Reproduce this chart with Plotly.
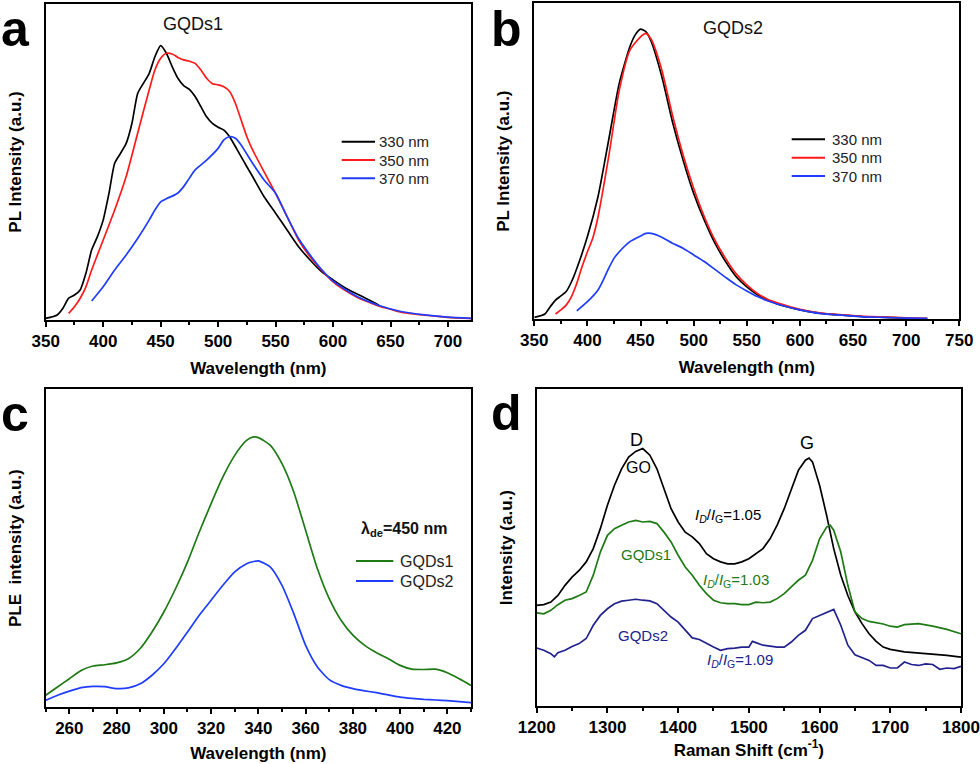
import plotly.graph_objects as go

# ---------------- Panel a : GQDs1 PL ----------------
a_x330 = [350, 360, 365, 370, 375, 380, 385, 390, 395, 400, 405, 410, 415, 420, 425, 430, 435, 440, 445, 450,
          455, 460, 465, 470, 475, 480, 485, 490, 495, 500, 505, 510, 515, 520, 525, 530, 540, 550, 560, 570,
          580, 590, 600, 610, 620, 630, 640]
a_y330 = [0.5, 1.6, 3.7, 6.9, 7.9, 9.5, 14.8, 22.2, 26.4, 31.6, 40.0, 49.6, 52.7, 55.9, 62.2, 71.7, 74.9, 78.0, 83.3, 86.8,
          84.4, 80.2, 76.5, 74.2, 73.0, 70.7, 67.5, 64.3, 62.2, 61.0, 60.1, 58.0, 54.9, 51.7, 48.5, 45.4, 39.0, 33.8, 28.5, 23.2,
          19.0, 15.3, 12.7, 10.3, 8.4, 6.6, 4.7]
a_x350 = [370, 375, 380, 385, 390, 395, 400, 410, 420, 430, 440, 445, 450, 455, 460, 465, 470, 475, 480, 485,
          490, 495, 500, 505, 510, 515, 520, 525, 530, 540, 550, 560, 570, 580, 590, 600, 610, 620, 630, 640,
          650, 660, 670, 680, 690, 700, 720]
a_y350 = [2.1, 4.2, 6.9, 10.5, 15.8, 20.6, 25.3, 34.8, 45.4, 59.1, 72.8, 79.1, 82.8, 84.4, 84.2, 83.1, 82.3, 81.9, 81.2, 79.1,
          76.5, 74.8, 74.4, 73.8, 72.3, 68.6, 63.3, 58.0, 53.8, 46.9, 40.1, 32.7, 25.3, 20.0, 15.8, 12.1, 9.5, 7.4, 5.8, 4.4,
          3.4, 2.4, 1.9, 1.5, 1.2, 0.8, 0.5]
a_x370 = [390, 400, 410, 420, 430, 440, 445, 450, 455, 460, 465, 470, 475, 480, 490, 500, 505, 510, 515, 520,
          530, 540, 550, 560, 570, 580, 590, 600, 620, 640, 660, 680, 700, 720]
a_y370 = [6.0, 10.5, 15.8, 20.6, 25.8, 31.6, 34.8, 37.4, 38.4, 39.2, 40.2, 42.2, 44.9, 47.5, 50.6, 54.3, 57.0, 58.0, 57.5, 55.4,
          49.6, 44.3, 40.1, 32.7, 25.8, 20.6, 16.0, 12.3, 7.6, 4.6, 2.6, 1.6, 0.9, 0.5]

# ---------------- Panel b : GQDs2 PL ----------------
b_x330 = [350, 360, 365, 370, 375, 380, 385, 390, 400, 410, 420, 430, 440, 445, 450, 455, 460, 470, 480, 490,
          500, 510, 520, 530, 540, 550, 560, 570, 580, 600, 620, 640, 660, 680, 700]
b_y330 = [0.5, 1.6, 3.9, 6.0, 7.3, 8.7, 11.8, 16.0, 26.1, 38.8, 56.7, 74.7, 86.3, 90.0, 91.8, 91.0, 87.9, 76.8, 62.5, 50.4,
          39.8, 31.3, 24.0, 18.2, 13.4, 10.2, 7.7, 6.0, 4.6, 2.9, 1.8, 1.2, 0.7, 0.5, 0.3]
b_x350 = [370, 375, 380, 385, 390, 395, 400, 405, 410, 420, 430, 440, 450, 455, 460, 470, 480, 490, 500, 510,
          520, 530, 540, 550, 560, 570, 580, 600, 620, 640, 660, 680, 700, 720]
b_y350 = [1.6, 2.9, 4.4, 7.1, 11.3, 16.6, 21.3, 25.6, 32.4, 51.4, 72.5, 85.2, 89.4, 90.5, 88.6, 78.9, 64.6, 52.0, 41.4, 32.4,
          25.0, 19.2, 14.3, 10.8, 8.1, 6.2, 5.0, 3.1, 1.9, 1.3, 0.8, 0.6, 0.4, 0.2]
b_x370 = [390, 400, 410, 415, 420, 425, 430, 440, 450, 455, 460, 470, 480, 490, 500, 510, 520, 530, 540, 550,
          560, 570, 580, 600, 620, 640, 660, 680, 700, 720]
b_y370 = [2.6, 5.5, 9.2, 12.4, 16.0, 19.2, 21.3, 24.5, 26.3, 27.1, 27.1, 25.9, 24.0, 22.4, 20.3, 18.2, 15.7, 13.2, 10.8, 8.9,
          7.1, 5.7, 4.6, 2.9, 1.7, 1.2, 0.7, 0.5, 0.3, 0.2]

# ---------------- Panel c : PLE ----------------
c_x = [250, 255, 260, 265, 270, 275, 280, 285, 290, 295, 300, 305, 310, 315, 320, 325, 330, 335, 338, 340,
       345, 350, 355, 360, 365, 370, 375, 380, 385, 390, 395, 400, 405, 410, 415, 420, 425, 430]
c_gqds1 = [3.7, 6.3, 8.9, 11.5, 12.9, 13.3, 13.9, 15.2, 18.4, 23.6, 29.9, 37.3, 45.6, 55.1, 64.0, 72.4, 79.2, 83.9, 85.0, 84.8,
           82.4, 76.6, 67.7, 55.6, 43.5, 34.1, 27.3, 22.6, 19.4, 17.1, 15.2, 13.1, 11.9, 11.8, 11.9, 10.8, 8.9, 6.8]
c_gqds2 = [2.1, 3.7, 5.0, 6.1, 6.5, 6.4, 5.8, 6.0, 7.3, 10.0, 13.6, 18.4, 23.6, 28.9, 33.6, 38.3, 42.5, 45.1, 45.8, 46.0,
           44.1, 38.3, 29.4, 19.4, 12.6, 8.6, 6.8, 5.8, 5.1, 4.5, 3.8, 3.1, 2.7, 2.4, 2.2, 2.0, 1.7, 1.4]

# ---------------- Panel d : Raman ----------------
d_x_go = [1200, 1210, 1220, 1230, 1240, 1250, 1260, 1270, 1280, 1290, 1300, 1310, 1320, 1330, 1340, 1350, 1360, 1370,
          1380, 1390, 1400, 1410, 1420, 1430, 1440, 1450, 1460, 1470, 1480, 1490, 1500, 1510, 1520, 1530, 1540, 1550,
          1560, 1570, 1580, 1585, 1590, 1600, 1610, 1620, 1630, 1640, 1650, 1660, 1670, 1680, 1690, 1700, 1720, 1740,
          1760, 1780, 1800]
d_y_go = [31.8, 32.0, 32.8, 34.9, 38.1, 40.7, 42.8, 45.5, 49.7, 56.0, 63.4, 69.7, 74.9, 78.6, 80.4, 81.3, 79.2, 74.9,
          68.6, 62.3, 58.1, 54.9, 53.4, 51.3, 48.1, 46.5, 45.5, 44.9, 44.9, 45.5, 46.5, 48.1, 49.7, 52.8, 57.1, 62.3,
          68.6, 74.4, 77.6, 78.3, 77.1, 69.7, 60.2, 49.7, 41.3, 34.9, 29.7, 26.0, 22.8, 20.4, 18.6, 17.9, 17.1, 16.8,
          16.5, 16.0, 15.4]
d_x_g1 = [1200, 1210, 1220, 1230, 1240, 1250, 1260, 1270, 1280, 1290, 1300, 1310, 1320, 1330, 1340, 1350, 1360, 1370,
          1380, 1390, 1400, 1410, 1420, 1430, 1440, 1450, 1460, 1470, 1480, 1490, 1500, 1510, 1520, 1530, 1540, 1550,
          1560, 1570, 1580, 1590, 1600, 1610, 1615, 1620, 1630, 1640, 1650, 1660, 1670, 1680, 1690, 1700, 1710, 1720,
          1740, 1760, 1780, 1800]
d_y_g1 = [29.4, 29.1, 30.2, 32.0, 33.4, 33.9, 34.9, 36.0, 41.3, 48.6, 53.9, 56.0, 57.1, 58.1, 58.6, 58.1, 58.3, 57.6,
          54.9, 51.8, 47.6, 43.9, 41.3, 38.1, 35.5, 33.4, 32.6, 32.3, 32.3, 32.0, 32.0, 32.8, 32.6, 32.8, 33.9, 35.5,
          37.6, 39.7, 41.3, 46.0, 52.8, 56.5, 57.1, 55.5, 48.6, 38.1, 29.7, 27.6, 26.7, 26.3, 25.9, 25.2, 24.9, 25.7,
          26.0, 25.2, 24.2, 22.8]
d_x_g2 = [1200, 1210, 1220, 1225, 1230, 1240, 1250, 1260, 1270, 1280, 1290, 1300, 1310, 1320, 1330, 1340, 1350, 1360,
          1370, 1380, 1390, 1400, 1410, 1420, 1430, 1440, 1450, 1460, 1470, 1480, 1490, 1500, 1505, 1510, 1520, 1530,
          1540, 1550, 1560, 1570, 1580, 1590, 1600, 1610, 1620, 1630, 1640, 1650, 1660, 1670, 1680, 1690, 1700, 1710,
          1720, 1730, 1740, 1750, 1760, 1770, 1780, 1790, 1800]
d_y_g2 = [18.3, 17.6, 16.5, 15.5, 16.8, 17.6, 18.8, 19.7, 21.3, 25.5, 28.6, 30.7, 32.3, 33.1, 33.4, 33.7, 33.4, 33.2,
          32.3, 30.2, 28.1, 26.5, 23.9, 21.5, 21.0, 19.7, 18.6, 17.6, 18.1, 18.3, 18.6, 18.6, 20.4, 20.0, 19.2, 18.9,
          18.6, 18.6, 20.2, 22.3, 23.9, 27.6, 28.6, 29.7, 30.5, 25.5, 19.2, 16.2, 15.2, 14.4, 12.8, 12.8, 12.0, 12.0,
          13.9, 13.1, 12.8, 13.3, 13.1, 11.6, 12.0, 11.8, 12.5]

# labels
pl_names = ["330 nm", "350 nm", "370 nm"]
ple_names = ["GQDs1", "GQDs2"]
raman_names = ["GO", "GQDs1", "GQDs2"]
panel_letters = ["a", "b", "c", "d"]

BLACK = "#000000"
RED = "#ff1a1a"
BLUE = "#1f3dff"
GREEN = "#1e7a14"
NAVY = "#22228f"
FONT = "Liberation Sans, Arial, sans-serif"
LW = 1.7
W, H = 980, 764

fig = go.Figure()

# Panel a
for xs, ys, name, col in zip([a_x330, a_x350, a_x370], [a_y330, a_y350, a_y370], pl_names, [BLACK, RED, BLUE]):
    fig.add_trace(go.Scatter(x=xs, y=ys, mode="lines", name=name, showlegend=False,
                             line=dict(color=col, width=LW, shape="spline", smoothing=0.6), xaxis="x", yaxis="y"))
# Panel b
for xs, ys, name, col in zip([b_x330, b_x350, b_x370], [b_y330, b_y350, b_y370], pl_names, [BLACK, RED, BLUE]):
    fig.add_trace(go.Scatter(x=xs, y=ys, mode="lines", name=name, showlegend=False,
                             line=dict(color=col, width=LW, shape="spline", smoothing=0.6), xaxis="x2", yaxis="y2"))
# Panel c
for ys, name, col in zip([c_gqds1, c_gqds2], ple_names, [GREEN, BLUE]):
    fig.add_trace(go.Scatter(x=c_x, y=ys, mode="lines", name=name, showlegend=False,
                             line=dict(color=col, width=LW, shape="spline", smoothing=0.6), xaxis="x3", yaxis="y3"))
# Panel d
for xs, ys, name, col in zip([d_x_go, d_x_g1, d_x_g2], [d_y_go, d_y_g1, d_y_g2], raman_names, [BLACK, GREEN, NAVY]):
    fig.add_trace(go.Scatter(x=xs, y=ys, mode="lines", name=name, showlegend=False,
                             line=dict(color=col, width=LW), xaxis="x4", yaxis="y4"))


def xd(p0, p1):
    return [p0 / W, p1 / W]


def yd(top, bottom):
    return [1 - bottom / H, 1 - top / H]


tickfont = dict(family=FONT, size=17, color="black", weight="bold")
titlefont = dict(family=FONT, size=17, color="black", weight="bold")


def xaxis(domain, rng, dtick, minor, anchor, title, standoff):
    return dict(domain=domain, range=rng, dtick=dtick, tick0=0, anchor=anchor, showline=True, mirror=True,
                linecolor="black", linewidth=2, ticks="outside", ticklen=5, tickwidth=2, tickcolor="black",
                minor=dict(dtick=minor, tick0=0, ticks="outside", ticklen=3, tickwidth=1.5, tickcolor="black"),
                showgrid=False, zeroline=False, tickfont=tickfont, automargin=False,
                title=dict(text=title, font=titlefont, standoff=standoff))


def yaxis(domain, anchor, title):
    return dict(domain=domain, range=[0, 100], anchor=anchor, showline=True, mirror=True, linecolor="black",
                linewidth=2, ticks="", showticklabels=False, showgrid=False, zeroline=False, automargin=False,
                title=dict(text=title, font=titlefont, standoff=18))


fig.update_layout(
    width=W, height=H, margin=dict(l=0, r=0, t=0, b=0, autoexpand=False),
    paper_bgcolor="white", plot_bgcolor="white", showlegend=False,
    xaxis=xaxis(xd(45.7, 471), [350, 720], 50, 25, "y", "Wavelength (nm)", 12),
    yaxis=yaxis(yd(4, 320), "x", "PL Intensity (a.u.)"),
    xaxis2=xaxis(xd(534.3, 959.3), [350, 750], 50, 25, "y2", "Wavelength (nm)", 12),
    yaxis2=yaxis(yd(3.3, 319), "x2", "PL Intensity (a.u.)"),
    xaxis3=xaxis(xd(45.7, 471), [250, 430], 20, 10, "y3", "Wavelength (nm)", 10),
    yaxis3=yaxis(yd(389.3, 707), "x3", "PLE  intensity (a.u.)"),
    xaxis4=xaxis(xd(536.7, 961), [1200, 1800], 100, 50, "y4", "Raman Shift (cm<sup>-1</sup>)", 6),
    yaxis4=yaxis(yd(389.3, 706), "x4", "Intensity (a.u.)"),
)

# ---- legends drawn as key lines + labels (pixel layout of the original) ----
legend_specs = [
    # (names, colours, line x0, line x1, text x, row y list, font size)
    (pl_names, [BLACK, RED, BLUE], 341.7, 375.0, 376.5, [141.7, 160.0, 178.3], 15),
    (pl_names, [BLACK, RED, BLUE], 791.7, 825.0, 829.5, [139.3, 157.7, 176.0], 15),
    (ple_names, [GREEN, BLUE], 356.0, 393.3, 397.5, [561.0, 581.0], 16),
]
for names, cols, lx0, lx1, tx, rows, fs in legend_specs:
    for name, col, ry in zip(names, cols, rows):
        fig.add_shape(type="line", xref="paper", yref="paper", x0=lx0 / W, x1=lx1 / W,
                      y0=1 - ry / H, y1=1 - ry / H, line=dict(color=col, width=2))
        fig.add_annotation(text=name, x=tx / W, y=1 - ry / H, xref="paper", yref="paper", xanchor="left",
                           yanchor="middle", showarrow=False, font=dict(family=FONT, size=fs, color="#222"))
fig.add_annotation(text="<b>λ<sub>de</sub>=450 nm</b>", x=359 / W, y=1 - 529 / H, xref="paper", yref="paper",
                   xanchor="left", yanchor="middle", showarrow=False, font=dict(family=FONT, size=16, color="#111"))

# panel letters
for letter, (px, py) in zip(panel_letters, [(0, 0), (490, 0), (0, 385), (490, 384)]):
    fig.add_annotation(text=letter, x=px / W, y=1 - py / H, xref="paper", yref="paper", xanchor="left",
                       yanchor="top", showarrow=False, borderpad=0,
                       font=dict(family=FONT, size=50, color="black", weight="bold"))

# in-plot labels
fig.add_annotation(text="GQDs1", x=478, y=93.7, xref="x", yref="y", showarrow=False,
                   font=dict(family=FONT, size=18, color="#111"))
fig.add_annotation(text="GQDs2", x=537, y=92.3, xref="x2", yref="y2", showarrow=False,
                   font=dict(family=FONT, size=18, color="#111"))

d_labels = [
    ("D", 1341, 83.9, BLACK, 18),
    ("G", 1582, 83.2, BLACK, 18),
    ("GO", 1344, 75.4, BLACK, 16),
    ("<i>I</i><sub><i>D</i></sub>/<i>I</i><sub>G</sub>=1.05", 1471, 60.2, BLACK, 15),
    ("GQDs1", 1355, 47.8, GREEN, 15),
    ("<i>I</i><sub><i>D</i></sub>/<i>I</i><sub>G</sub>=1.03", 1482, 39.7, GREEN, 15),
    ("GQDs2", 1351, 22.3, NAVY, 15),
    ("<i>I</i><sub><i>D</i></sub>/<i>I</i><sub>G</sub>=1.09", 1488, 14.4, NAVY, 15),
]
for text, x, y, col, sz in d_labels:
    fig.add_annotation(text=text, x=x, y=y, xref="x4", yref="y4", showarrow=False,
                       font=dict(family=FONT, size=sz, color=col))

fig.write_html("out.html", config={"displayModeBar": False},
               post_script="document.body.style.margin='0';document.body.style.padding='0';")
